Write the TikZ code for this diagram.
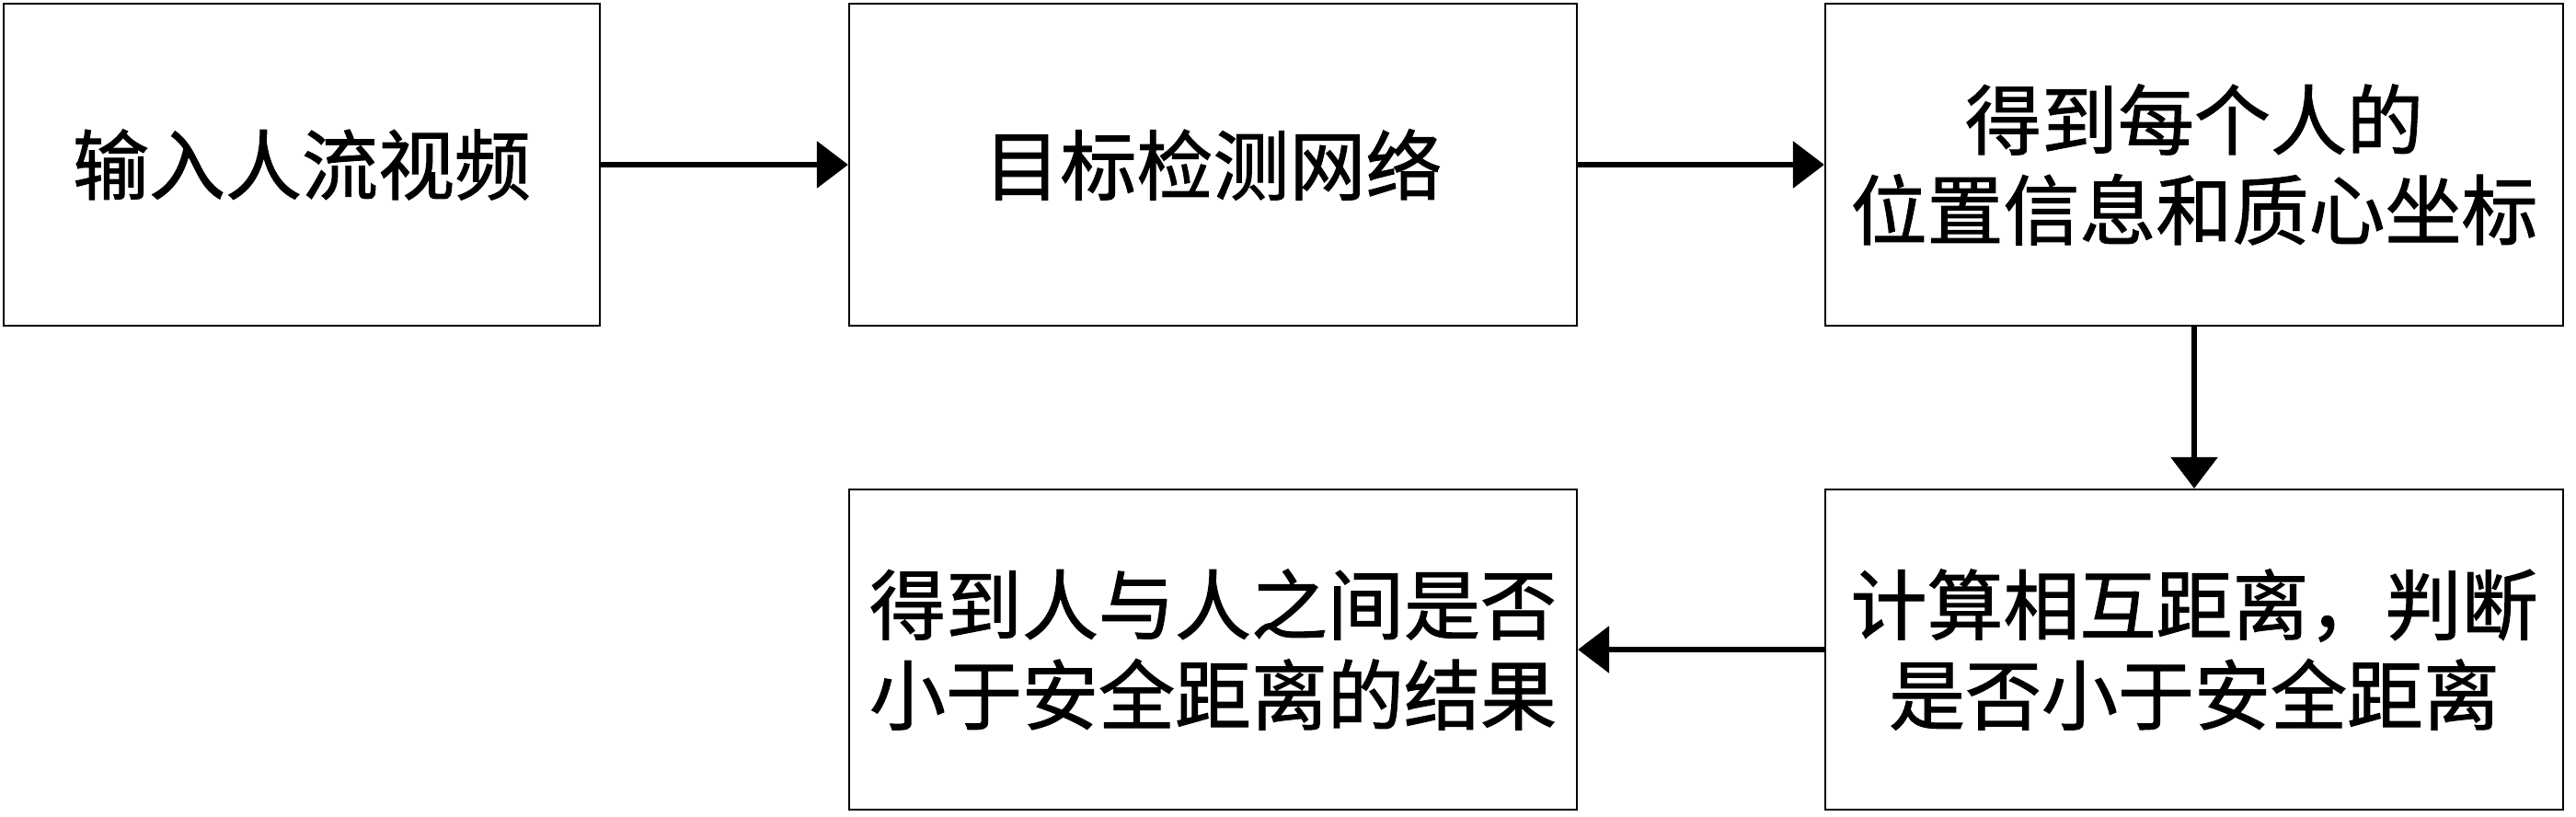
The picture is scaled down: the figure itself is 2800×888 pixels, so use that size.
\documentclass[tikz,border=0pt]{standalone}
\usepackage{fontspec}
\newfontfamily\cjk[FakeBold=1.2]{Noto Sans CJK SC}
\usetikzlibrary{arrows.meta}
\begin{document}
\begin{tikzpicture}[x=1pt,y=1pt,
  box/.style={draw=black, line width=2.2pt, rectangle, inner sep=0pt, align=center,
    font=\cjk\fontsize{83}{98}\selectfont, text=black},
  conn/.style={line width=6pt, -{Triangle[length=34pt,width=50pt]}}]
\useasboundingbox (0,0) rectangle (2800,-888);
\node[box, minimum width=648pt, minimum height=350pt] (b1) at (328,-179) {输入人流视频};
\node[box, minimum width=791pt, minimum height=350pt] (b2) at (1318.5,-179) {目标检测网络};
\node[box, minimum width=802pt, minimum height=350pt] (b3) at (2385,-179) {得到每个人的\\位置信息和质心坐标};
\node[box, minimum width=802pt, minimum height=348pt] (b4) at (2385,-706) {计算相互距离，判断\\是否小于安全距离};
\node[box, minimum width=791pt, minimum height=348pt] (b5) at (1318.5,-706) {得到人与人之间是否\\小于安全距离的结果};
\draw[conn] (b1.east) -- (b2.west);
\draw[conn] (b2.east) -- (b3.west);
\draw[conn] (b3.south) -- (b4.north);
\draw[conn] (b4.west) -- (b5.east);
\end{tikzpicture}
\end{document}
